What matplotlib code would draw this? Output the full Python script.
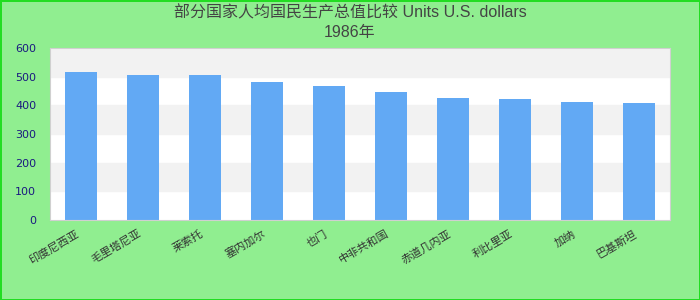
import matplotlib
matplotlib.use("Agg")
from matplotlib import pyplot as plt
import numpy as np

plt.rcParams['font.family'] = ['DejaVu Sans', 'Noto Sans CJK SC']

countries = ["印度尼西亚", "毛里塔尼亚", "莱索托", "塞内加尔", "也门",
             "中非共和国", "赤道几内亚", "利比里亚", "加纳", "巴基斯坦"]
values = [516, 507, 506, 481, 467, 446, 425, 422, 412, 408]
title_line1 = "部分国家人均国民生产总值比较 Units U.S. dollars"
title_line2 = "1986年"

fig = plt.figure(figsize=(7, 3), dpi=100)
fig.patch.set_facecolor("#90ee90")
fig.patch.set_edgecolor("#22dd22")
fig.patch.set_linewidth(2)

ax = fig.add_axes([50 / 700, 80 / 300, 620 / 700, 172 / 300])
ax.set_facecolor("white")

# alternating bands
for lo in (100, 300, 500):
    ax.axhspan(lo, lo + 100, color="#f2f2f2", zorder=0)

x = np.arange(len(countries))
ax.bar(x, values, width=0.52, color="#62a9f4", zorder=2)

ax.set_xlim(-0.5, len(countries) - 0.5)
ax.set_ylim(0, 600)
ax.set_yticks(range(0, 601, 100))
ax.set_xticks(x)
ax.set_xticklabels(countries, rotation=30, ha="right", fontsize=8, color="#333333",
                   family=['Noto Sans CJK SC', 'DejaVu Sans'])
ax.tick_params(axis="y", length=0, labelsize=8, labelcolor="#1a1a80", pad=10)
ax.tick_params(axis="x", length=0, pad=6)
for s in ax.spines.values():
    s.set_color("#d0d0d0")

tfam = ['Liberation Sans', 'Noto Sans CJK SC']
fig.text(0.5, 1 - 13 / 300, title_line1, ha="center", va="center", fontsize=11.5,
         color="#444444", family=tfam)
fig.text(0.5, 1 - 33 / 300, title_line2, ha="center", va="center", fontsize=11.5,
         color="#444444", family=tfam)

plt.savefig("out.png", dpi=100, facecolor=fig.get_facecolor(), edgecolor=fig.get_edgecolor())
